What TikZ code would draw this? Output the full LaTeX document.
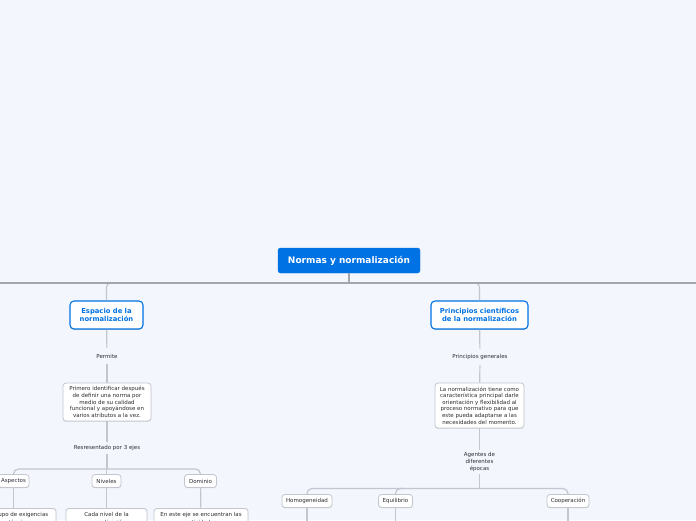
\documentclass[tikz,border=0pt]{standalone}
\usepackage{fontspec}
\setmainfont{DejaVu Sans}
\usetikzlibrary{shadows}
\definecolor{bg}{RGB}{243,246,253}
\definecolor{mblue}{RGB}{0,114,227}
\definecolor{lgray}{RGB}{196,198,206}
\definecolor{dgray}{RGB}{165,166,172}
\definecolor{tgray}{RGB}{45,45,50}
\tikzset{
  rootbox/.style={draw=mblue, fill=mblue, rounded corners=2.5pt, text=white,
    font=\fontsize{9}{11}\selectfont\bfseries, minimum width=142pt, minimum height=25pt, inner sep=0pt},
  mainbox/.style={draw=mblue, line width=1.1pt, fill=white, rounded corners=4pt, text=mblue,
    font=\fontsize{6.8}{8.2}\selectfont\bfseries, align=center, minimum height=28pt,
    inner xsep=3pt, inner ysep=0pt,
    drop shadow={shadow xshift=0pt, shadow yshift=-0.8pt, opacity=0.2, fill=black}},
  subbox/.style={draw=lgray, line width=0.8pt, fill=white, rounded corners=3pt, text=tgray,
    font=\fontsize{5.5}{6.6}\selectfont, align=center, inner xsep=3pt, inner ysep=2.5pt,
    drop shadow={shadow xshift=0pt, shadow yshift=-0.7pt, opacity=0.15, fill=black}},
  lowbox/.style={subbox, font=\fontsize{5.5}{7.6}\selectfont, inner ysep=4pt},
  smallbox/.style={subbox, minimum height=13pt, inner ysep=0pt},
  lbl/.style={text=tgray, font=\fontsize{5.5}{6.6}\selectfont, align=center, inner xsep=2pt, inner ysep=5.5pt},
  conn/.style={draw=lgray, line width=1.2pt},
  mainline/.style={draw=dgray, line width=1.5pt}
}
\begin{document}
\begin{tikzpicture}[x=1pt,y=-1pt]
\useasboundingbox (0,0) rectangle (696,520);
\fill[bg] (0,0) rectangle (696,520);
\clip (0,0) rectangle (696,520);

% root and main bus
\node[rootbox] (root) at (349,260.5) {Normas y normalización};
\coordinate (busL) at (0,283);
\coordinate (busR) at (696,283);
\coordinate (bot) at (0,522);

% main branches
\node[mainbox, minimum width=73pt] (esp) at (106.5,315) {Espacio de la\\normalización};
\node[mainbox, minimum width=97pt] (pri) at (479.5,315) {Principios científicos\\de la normalización};

\draw[conn, rounded corners=4pt] (esp.north) -- (esp.north |- busL) -- (pri.north |- busL) -- (pri.north);
\draw[mainline] (busL) -- (busR);
\draw[mainline] (root.south) -- (root.south |- busL);

% left subtree
\node[lbl] (permite) at (107,356) {Permite};
\node[subbox, minimum width=88pt, minimum height=38pt] (primero) at (107,402)
  {Primero identificar después\\de definir una norma por\\medio de su calidad\\funcional y apoyándose en\\varios atributos a la vez.};
\node[lbl, inner ysep=3.5pt] (resr) at (107,448) {Resresentado por 3 ejes};
\coordinate (lbus) at (0,469);
\node[smallbox, minimum width=30pt] (aspectos) at (13.5,481) {Aspectos};
\node[smallbox, minimum width=29pt] (niveles) at (106.5,481) {Niveles};
\node[smallbox, minimum width=32pt] (dominio) at (200.5,481) {Dominio};

\node[lowbox, anchor=north, minimum width=72pt] (grupo) at (20,508) {Grupo de exigencias\\técnicas};
\node[lowbox, anchor=north, minimum width=81pt] (cada) at (106.5,508) {Cada nivel de la\\normalización};
\node[lowbox, anchor=north, minimum width=94pt] (eneste) at (201,508) {En este eje se encuentran las\\actividades};

\draw[conn] (esp) -- (permite);
\draw[conn] (permite) -- (primero);
\draw[conn] (primero) -- (resr);
\draw[conn] (resr.south) -- (resr.south |- lbus);
\draw[conn, rounded corners=5pt] (aspectos.north) -- (aspectos.north |- lbus) -- (dominio.north |- lbus) -- (dominio.north);
\draw[conn] (niveles.north) -- (niveles.north |- lbus);
\draw[conn] (aspectos.south) -- (aspectos.south |- grupo.north);
\draw[conn] (niveles) -- (cada);
\draw[conn] (dominio) -- (eneste);

% right subtree
\node[lbl] (pg) at (480,357) {Principios generales};
\node[subbox, minimum width=89pt, minimum height=45pt] (lanorm) at (479.5,405.5)
  {La normalización tiene como\\característica principal darle\\orientación y flexibilidad al\\proceso normativo para que\\este pueda adaptarse a las\\necesidades del momento.};
\node[lbl, inner ysep=2.5pt] (agentes) at (479.5,462) {Agentes de\\diferentes\\épocas};
\coordinate (rbus) at (0,488.5);
\node[smallbox, minimum width=50pt] (homog) at (307,501) {Homogeneidad};
\node[smallbox, minimum width=34pt] (equil) at (395.5,501) {Equilibrio};
\node[smallbox, minimum width=42pt] (coop) at (568,501) {Cooperación};

\draw[conn] (pri) -- (pg);
\draw[conn] (pg) -- (lanorm);
\draw[conn] (lanorm) -- (agentes);
\draw[conn] (agentes.south) -- (agentes.south |- rbus);
\draw[conn, rounded corners=5pt] (homog.north) -- (homog.north |- rbus) -- (coop.north |- rbus) -- (coop.north);
\draw[conn, rounded corners=5pt] (equil.north) -- (equil.north |- rbus) -- ([xshift=8pt]equil.north |- rbus);
\draw[conn] (homog.south) -- (homog.south |- bot);
\draw[conn] (equil.south) -- (equil.south |- bot);
\draw[conn] (coop.south) -- (coop.south |- bot);
\end{tikzpicture}
\end{document}
